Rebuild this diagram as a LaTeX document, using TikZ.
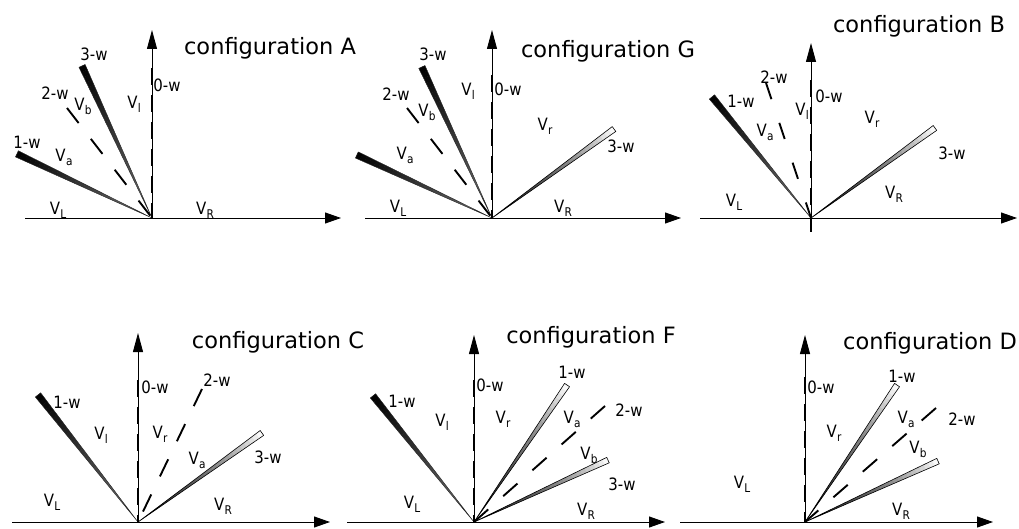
\documentclass[tikz,border=0pt]{standalone}
\usepackage{fontspec}
\setmainfont{DejaVu Sans}
\newfontfamily\lblfont{DejaVu Sans}[FakeStretch=0.88]
\usetikzlibrary{arrows.meta}
\colorlet{dkorigin}{black!55}
\colorlet{ltorigin}{black!85}
\newcommand\Vsub[1]{V\kern0.3pt\raisebox{-4pt}{\fontsize{12}{12}\selectfont #1}}
% #1 origin, #2 angle, #3 length, #4 tip colour, #5 origin colour, #6 outline style, #7 half width at tip, #8 gradient exponent
\newcommand\mywedge[8]{%
\begin{scope}[shift={(#1)},rotate=#2]
 \foreach \i in {0,...,29}{%
   \pgfmathsetmacro\ta{#3*\i/30}%
   \pgfmathsetmacro\tb{#3*(\i+1)/30+0.3}%
   \pgfmathsetmacro\wa{#7*\i/30}%
   \pgfmathsetmacro\wb{#7*(\i+1)/30}%
   \pgfmathtruncatemacro\pc{100*((\i+0.5)/30)^#8}%
   \fill[#4!\pc!#5] (\ta,-\wa) -- (\tb,-\wb) -- (\tb,\wb) -- (\ta,\wa) -- cycle;
 }
 \draw[#6] (0,0) -- (#3,-#7) -- (#3,#7) -- cycle;
\end{scope}}
\newcommand\darkwedge[3]{\mywedge{#1}{#2}{#3}{black}{dkorigin}{darkedge}{3.4}{1}}
\newcommand\lightwedge[3]{\mywedge{#1}{#2}{#3}{white}{ltorigin}{lightedge}{3}{1.7}}
\tikzset{
 axis/.style={line width=0.9pt,-{Triangle[length=16pt,width=11pt]}},
 vaxis/.style={line width=0.9pt,-{Triangle[length=19pt,width=10pt]}},
 wall/.style={line width=2.8pt,dash pattern=on 17pt off 10pt},
 wallb/.style={line width=1.9pt,dash pattern=on 19pt off 20pt},
 wallc/.style={line width=1.9pt,dash pattern=on 17pt off 25pt},
 darkedge/.style={draw=black!85,line width=0.4pt,line join=round},
 lightedge/.style={draw=black,line width=0.6pt,line join=round},
 lbl/.style={font=\lblfont\fontsize{17}{17}\selectfont,inner sep=0pt},
 ttl/.style={font=\fontsize{22.5}{22.5}\selectfont,inner sep=0pt,anchor=base},
}
\begin{document}
\begin{tikzpicture}[x=1pt,y=-1pt]
\useasboundingbox (0,0) rectangle (1019,529);

% ---------- Panel A ----------
\coordinate (A-o) at (152,218);
\coordinate (A-xa) at (25,218);
\coordinate (A-xb) at (341,218);
\coordinate (A-ya) at (152,30);
\coordinate (A-wa) at (152,68);
\coordinate (A-d2) at (67,108);
\draw[axis] (A-xa) -- (A-xb);
\draw[vaxis] (A-o) -- (A-ya);
\darkwedge{A-o}{154.6}{149.4}
\darkwedge{A-o}{114.7}{167.3}
\draw[wall] (A-wa) -- (A-o);
\draw[wallb] (A-d2) -- (A-o);
\node[ttl] (A-t) at (270,55) {configuration A};
\node[lbl] (A-3w) at (94,54) {3-w};
\node[lbl] (A-2w) at (55,93) {2-w};
\node[lbl] (A-1w) at (27,142) {1-w};
\node[lbl] (A-0w) at (167,85) {0-w};
\node[lbl] (A-Vb) at (83,106) {\Vsub{b}};
\node[lbl] (A-Vl) at (134,104) {\Vsub{l}};
\node[lbl] (A-Va) at (64,157) {\Vsub{a}};
\node[lbl] (A-VL) at (58,210) {\Vsub{L}};
\node[lbl] (A-VR) at (205,210) {\Vsub{R}};

% ---------- Panel G ----------
\coordinate (G-o) at (492,218);
\coordinate (G-xa) at (365,218);
\coordinate (G-xb) at (681,218);
\coordinate (G-ya) at (492,30);
\coordinate (G-wa) at (492,75);
\coordinate (G-d2) at (407,108);
\draw[axis] (G-xa) -- (G-xb);
\draw[vaxis] (G-o) -- (G-ya);
\darkwedge{G-o}{155.0}{149}
\darkwedge{G-o}{114.9}{166.4}
\lightwedge{G-o}{36.1}{151}
\draw[wall] (G-wa) -- (G-o);
\draw[wallb] (G-d2) -- (G-o);
\node[ttl] (G-t) at (608,58) {configuration G};
\node[lbl] (G-3w) at (433,54) {3-w};
\node[lbl] (G-2w) at (396,94) {2-w};
\node[lbl] (G-0w) at (508,89) {0-w};
\node[lbl] (G-3wr) at (621,146) {3-w};
\node[lbl] (G-Vl) at (468,91) {\Vsub{l}};
\node[lbl] (G-Vb) at (427,112) {\Vsub{b}};
\node[lbl] (G-Vr) at (545,126) {\Vsub{r}};
\node[lbl] (G-Va) at (405,155) {\Vsub{a}};
\node[lbl] (G-VL) at (398,208) {\Vsub{L}};
\node[lbl] (G-VR) at (563,208) {\Vsub{R}};

% ---------- Panel B ----------
\coordinate (B-o) at (811,218);
\coordinate (B-xa) at (700,218);
\coordinate (B-xb) at (1017,218);
\coordinate (B-ya) at (811,43);
\coordinate (B-wa) at (811,80);
\coordinate (B-wb) at (811,232);
\coordinate (B-d2) at (766,83);
\draw[axis] (B-xa) -- (B-xb);
\draw[vaxis] (B-o) -- (B-ya);
\darkwedge{B-o}{129.3}{156.3}
\lightwedge{B-o}{36.0}{153.2}
\draw[wall] (B-wa) -- (B-wb);
\draw[wallc] (B-d2) -- (B-o);
\node[ttl] (B-t) at (919,33) {configuration B};
\node[lbl] (B-2w) at (774,77) {2-w};
\node[lbl] (B-1w) at (741,101) {1-w};
\node[lbl] (B-0w) at (829,96) {0-w};
\node[lbl] (B-3w) at (952,153) {3-w};
\node[lbl] (B-Vl) at (802,111) {\Vsub{l}};
\node[lbl] (B-Vr) at (872,119) {\Vsub{r}};
\node[lbl] (B-Va) at (765,132) {\Vsub{a}};
\node[lbl] (B-VL) at (734,202) {\Vsub{L}};
\node[lbl] (B-VR) at (894,194) {\Vsub{R}};

% ---------- Panel C ----------
\coordinate (C-o) at (138,522);
\coordinate (C-xa) at (12,522);
\coordinate (C-xb) at (330,522);
\coordinate (C-ya) at (138,333);
\coordinate (C-wa) at (138,380);
\coordinate (C-d2) at (202,389);
\draw[axis] (C-xa) -- (C-xb);
\draw[vaxis] (C-o) -- (C-ya);
\darkwedge{C-o}{128.2}{161.6}
\lightwedge{C-o}{35.7}{152.6}
\draw[wall] (C-wa) -- (C-o);
\draw[wallb] (C-d2) -- (C-o);
\node[ttl] (C-t) at (278,348) {configuration C};
\node[lbl] (C-0w) at (155,387) {0-w};
\node[lbl] (C-2w) at (217,380) {2-w};
\node[lbl] (C-1w) at (67,402) {1-w};
\node[lbl] (C-3w) at (268,457) {3-w};
\node[lbl] (C-Vl) at (101,435) {\Vsub{l}};
\node[lbl] (C-Vr) at (160,434) {\Vsub{r}};
\node[lbl] (C-Va) at (197,460) {\Vsub{a}};
\node[lbl] (C-VL) at (52,502) {\Vsub{L}};
\node[lbl] (C-VR) at (223,506) {\Vsub{R}};

% ---------- Panel F ----------
\coordinate (F-o) at (474,522);
\coordinate (F-xa) at (347,522);
\coordinate (F-xb) at (665,522);
\coordinate (F-ya) at (474,335);
\coordinate (F-wa) at (474,380);
\coordinate (F-d2) at (605,406);
\draw[axis] (F-xa) -- (F-xb);
\draw[vaxis] (F-o) -- (F-ya);
\darkwedge{F-o}{128.7}{161.5}
\lightwedge{F-o}{55.8}{165.6}
\lightwedge{F-o}{24.8}{147.6}
\draw[wall] (F-wa) -- (F-o);
\draw[wallb] (F-d2) -- (F-o);
\node[ttl] (F-t) at (591,343) {configuration F};
\node[lbl] (F-0w) at (490,385) {0-w};
\node[lbl] (F-1wr) at (572,372) {1-w};
\node[lbl] (F-1w) at (402,401) {1-w};
\node[lbl] (F-2w) at (629,410) {2-w};
\node[lbl] (F-3w) at (622,484) {3-w};
\node[lbl] (F-Vl) at (442,422) {\Vsub{l}};
\node[lbl] (F-Vr) at (503,419) {\Vsub{r}};
\node[lbl] (F-Va) at (572,419) {\Vsub{a}};
\node[lbl] (F-Vb) at (589,455) {\Vsub{b}};
\node[lbl] (F-VL) at (412,504) {\Vsub{L}};
\node[lbl] (F-VR) at (586,511) {\Vsub{R}};

% ---------- Panel D ----------
\coordinate (D-o) at (805,522);
\coordinate (D-xa) at (680,522);
\coordinate (D-xb) at (993,522);
\coordinate (D-ya) at (805,335);
\coordinate (D-wa) at (805,377);
\coordinate (D-d2) at (936,408);
\draw[axis] (D-xa) -- (D-xb);
\draw[vaxis] (D-o) -- (D-ya);
\lightwedge{D-o}{56.1}{165.0}
\lightwedge{D-o}{24.6}{146.3}
\draw[wall] (D-wa) -- (D-o);
\draw[wallb] (D-d2) -- (D-o);
\node[ttl] (D-t) at (930,349) {configuration D};
\node[lbl] (D-1w) at (902,376) {1-w};
\node[lbl] (D-0w) at (821,387) {0-w};
\node[lbl] (D-2w) at (962,419) {2-w};
\node[lbl] (D-Va) at (906,419) {\Vsub{a}};
\node[lbl] (D-Vr) at (834,433) {\Vsub{r}};
\node[lbl] (D-Vb) at (918,449) {\Vsub{b}};
\node[lbl] (D-VL) at (742,484) {\Vsub{L}};
\node[lbl] (D-VR) at (901,511) {\Vsub{R}};
\end{tikzpicture}
\end{document}
